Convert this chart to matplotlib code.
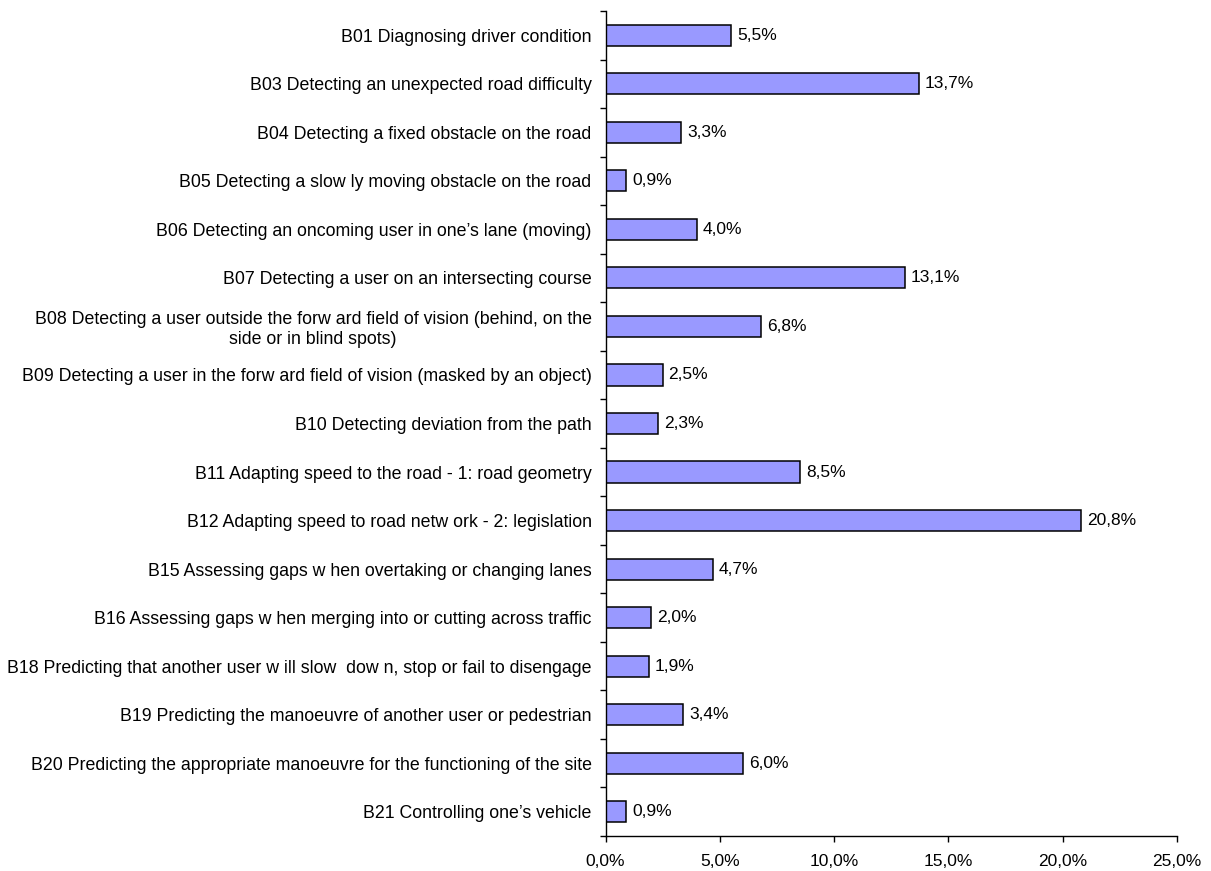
import matplotlib
matplotlib.use("Agg")
import matplotlib.pyplot as plt
from matplotlib.ticker import FuncFormatter, FixedLocator

categories = [
    "B01 Diagnosing driver condition",
    "B03 Detecting an unexpected road difficulty",
    "B04 Detecting a fixed obstacle on the road",
    "B05 Detecting a slow ly moving obstacle on the road",
    "B06 Detecting an oncoming user in one’s lane (moving)",
    "B07 Detecting a user on an intersecting course",
    "B08 Detecting a user outside the forw ard field of vision (behind, on the\nside or in blind spots)",
    "B09 Detecting a user in the forw ard field of vision (masked by an object)",
    "B10 Detecting deviation from the path",
    "B11 Adapting speed to the road - 1: road geometry",
    "B12 Adapting speed to road netw ork - 2: legislation",
    "B15 Assessing gaps w hen overtaking or changing lanes",
    "B16 Assessing gaps w hen merging into or cutting across traffic",
    "B18 Predicting that another user w ill slow  dow n, stop or fail to disengage",
    "B19 Predicting the manoeuvre of another user or pedestrian",
    "B20 Predicting the appropriate manoeuvre for the functioning of the site",
    "B21 Controlling one’s vehicle",
]
values = [5.5, 13.7, 3.3, 0.9, 4.0, 13.1, 6.8, 2.5, 2.3, 8.5, 20.8, 4.7, 2.0, 1.9, 3.4, 6.0, 0.9]
x_ticks = [0, 5, 10, 15, 20, 25]

plt.rcParams['font.family'] = ['Liberation Sans', 'DejaVu Sans']

fig = plt.figure(figsize=(12.11, 8.71), dpi=100)
ax = fig.add_axes([0.5, 0.0402, 0.472, 0.9472])

n = len(categories)
ypos = list(range(n))
ax.barh(ypos, values, height=0.435, color='#9999FF', edgecolor='black', linewidth=1.1)

ax.set_ylim(n - 0.5, -0.5)
ax.set_xlim(0, 25)

ax.set_yticks(ypos)
ax.set_yticklabels(categories, fontsize=12.8, multialignment='center')
ax.tick_params(axis='y', which='major', length=0, pad=10)
ax.yaxis.set_minor_locator(FixedLocator([i - 0.5 for i in range(n + 1)]))
ax.tick_params(axis='y', which='minor', length=4, width=1, direction='out')

ax.set_xticks(x_ticks)
ax.xaxis.set_major_formatter(FuncFormatter(lambda v, p: f"{v:.1f}%".replace('.', ',')))
ax.tick_params(axis='x', length=4, width=1, direction='out', labelsize=12.5, pad=9)

for s in ['top', 'right']:
    ax.spines[s].set_visible(False)
for s in ['left', 'bottom']:
    ax.spines[s].set_linewidth(1.0)

for y, v in zip(ypos, values):
    ax.text(v + 0.26, y, f"{v:.1f}%".replace('.', ','), va='center', ha='left', fontsize=12.5)

fig.savefig("out.png", dpi=100)
